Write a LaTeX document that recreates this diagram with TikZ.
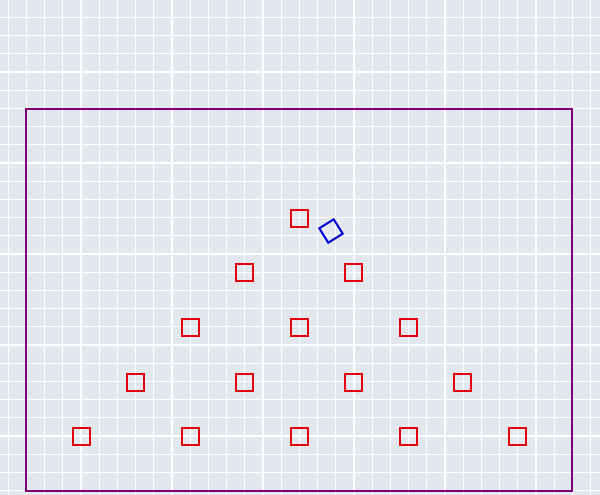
\documentclass[tikz,border=0pt]{standalone}
\begin{document}
\begin{tikzpicture}[x=1pt,y=-1pt,
  redsq/.style={draw=sqred,line width=2pt,minimum size=17pt,inner sep=0pt},
  bluesq/.style={draw=sqblue,line width=2pt,minimum size=17pt,inner sep=0pt,rotate=32},
  frame/.style={draw=framepurple,line width=2.2pt}]
\definecolor{bg}{HTML}{E3E8EF}
\definecolor{framepurple}{HTML}{800080}
\definecolor{sqred}{HTML}{E00010}
\definecolor{sqblue}{HTML}{0000D0}
\fill[bg] (0,0) rectangle (600,495);
\useasboundingbox (0,0) rectangle (600,495);
\foreach \i in {0,...,32} {\draw[white,line width=1.2pt] (8.2+18.2*\i,0) -- (8.2+18.2*\i,495);}
\foreach \j in {0,...,27} {\draw[white,line width=1.2pt] (0,17.4+18.2*\j) -- (600,17.4+18.2*\j);}
\draw[frame] (26,109) rectangle (572,491);
\node[redsq] (r11) at (299,218) {};
\node[redsq] (r21) at (244,272) {};
\node[redsq] (r22) at (353,272) {};
\node[redsq] (r31) at (190,327) {};
\node[redsq] (r32) at (299,327) {};
\node[redsq] (r33) at (408,327) {};
\node[redsq] (r41) at (135,382) {};
\node[redsq] (r42) at (244,382) {};
\node[redsq] (r43) at (353,382) {};
\node[redsq] (r44) at (462,382) {};
\node[redsq] (r51) at (81,436) {};
\node[redsq] (r52) at (190,436) {};
\node[redsq] (r53) at (299,436) {};
\node[redsq] (r54) at (408,436) {};
\node[redsq] (r55) at (517,436) {};
\node[bluesq] (b) at (331,231) {};
\end{tikzpicture}
\end{document}
